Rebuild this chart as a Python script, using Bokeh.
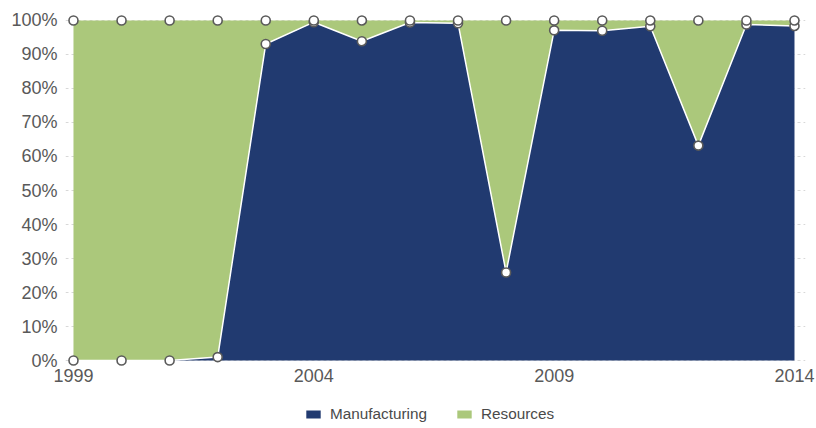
from bokeh.plotting import figure
from bokeh.layouts import column
from bokeh.models import ColumnDataSource, FixedTicker, PrintfTickFormatter, Range1d, Legend, LegendItem
from bokeh.embed import file_html
from bokeh.resources import INLINE

years = list(range(1999, 2015))
manufacturing = [0, 0, 0, 1.0, 93.1, 99.5, 93.9, 99.4, 99.2, 25.9, 97.1, 97.0, 98.3, 63.2, 98.8, 98.4]
resources = [100, 100, 100, 99.0, 6.9, 0.5, 6.1, 0.6, 0.8, 74.1, 2.9, 3.0, 1.7, 36.8, 1.2, 1.6]
series = ["Manufacturing", "Resources"]
colors = ["#213a70", "#abc87b"]
x_ticks = [1999, 2004, 2009, 2014]
y_ticks = list(range(0, 101, 10))

top1 = [float(m) for m in manufacturing]
top2 = [float(m + r) for m, r in zip(manufacturing, resources)]
src = ColumnDataSource(dict(year=years, Manufacturing=manufacturing, Resources=resources,
                            top1=top1, top2=top2))

p = figure(frame_width=740, frame_height=352, output_backend="svg", toolbar_location=None,
           x_range=Range1d(1998.834, 2014.229), y_range=Range1d(-1.76, 101.76),
           min_border_left=65, min_border_right=11, min_border_top=14, min_border_bottom=28)
p.outline_line_color = None
p.xgrid.grid_line_color = None
p.ygrid.ticker = FixedTicker(ticks=y_ticks)
p.ygrid.grid_line_color = "#d8d8d8"
p.ygrid.grid_line_dash = "3 3"

rs = p.varea_stack(series, x="year", source=src, color=colors)
p.line("year", "top1", source=src, line_color="white", line_width=1.5)
p.scatter("year", "top1", source=src, size=9, fill_color="white", line_color="#5a5a5a", line_width=1.6)
p.scatter("year", "top2", source=src, size=9, fill_color="white", line_color="#5a5a5a", line_width=1.6)

font = "Liberation Sans"
p.yaxis.ticker = FixedTicker(ticks=y_ticks)
p.yaxis.formatter = PrintfTickFormatter(format="%d%%")
p.xaxis.ticker = FixedTicker(ticks=x_ticks)
for ax in (p.xaxis, p.yaxis):
    ax.axis_line_color = None
    ax.major_tick_line_color = None
    ax.minor_tick_line_color = None
    ax.major_tick_out = 0
    ax.major_tick_in = 0
    ax.major_label_text_font = font
    ax.major_label_text_color = "#595959"
    ax.major_label_text_font_size = "18px"
p.yaxis.major_label_standoff = 8
p.xaxis.major_label_standoff = 2

# legend strip below the chart (its proxy areas use the same data, kept out of view)
lf = figure(width=816, height=34, output_backend="svg", toolbar_location=None,
            x_axis_location=None, y_axis_location=None,
            x_range=Range1d(1998.834, 2014.229), y_range=Range1d(500, 501),
            min_border_left=0, min_border_right=0, min_border_top=0, min_border_bottom=0)
lf.outline_line_color = None
lf.grid.visible = False
proxies = lf.varea_stack(series, x="year", source=src, color=colors)
legend = Legend(items=[LegendItem(label=s, renderers=[r]) for s, r in zip(series, proxies)],
                orientation="horizontal", border_line_color=None, background_fill_alpha=0,
                label_text_font=font, label_text_font_size="15.3px", label_text_color="#4a4a4a",
                glyph_width=18, glyph_height=10, spacing=28, padding=0, margin=0,
                label_standoff=8, label_height=17,
                location=(239, 5))
lf.add_layout(legend, "center")

open("out.html", "w").write(file_html(column(p, lf, spacing=0), INLINE))
